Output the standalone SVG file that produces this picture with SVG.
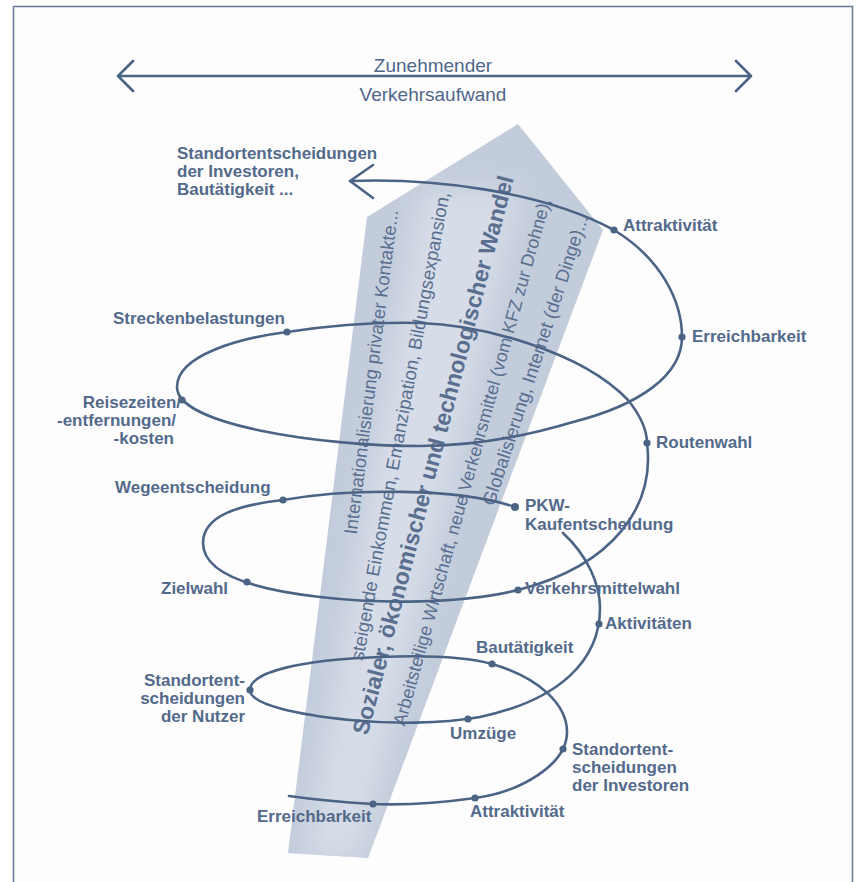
<svg xmlns="http://www.w3.org/2000/svg" width="859" height="882" viewBox="0 0 859 882">
<defs>
<clipPath id="wclip"><polygon points="518,124 603,230 368,858 288,853 367,217"/></clipPath>
<filter id="blur" x="-50%" y="-10%" width="200%" height="120%"><feGaussianBlur stdDeviation="14"/></filter>
<style>
.lbl{font-family:"Liberation Sans",Arial,sans-serif;font-weight:bold;font-size:17px;fill:#536a8b}
.ttl{font-family:"Liberation Sans",Arial,sans-serif;font-size:19px;fill:#4f6688}
.wt{font-family:"Liberation Sans",Arial,sans-serif;fill:#5a6f90;dominant-baseline:central;text-anchor:middle}
.ln{fill:none;stroke:#4b6385;stroke-width:2.6;stroke-linecap:round;stroke-linejoin:round}
.dot{fill:#4b6385}
</style>
</defs>
<rect x="0" y="0" width="859" height="882" fill="#ffffff"/>
<rect x="13.5" y="6.5" width="839" height="900" fill="#fdfdfe" stroke="#6d7f98" stroke-width="1.6"/>

<g id="wedge">
<polygon points="518,124 603,230 368,858 288,853 367,217" fill="#c3ccdb"/>
<g clip-path="url(#wclip)">
<polygon points="420,190 520,190 360,860 305,860" fill="#d7dde8" filter="url(#blur)"/>
</g>
<text class="wt" font-size="18.5" transform="translate(371,372) rotate(-82.7)">Internationalisierung privater Kontakte...</text>
<text class="wt" font-size="18.5" transform="translate(400,426) rotate(-79.5)">steigende Einkommen, Emanzipation, Bildungsexpansion,</text>
<text class="wt" font-size="23" font-weight="bold" transform="translate(433,455) rotate(-75.3)">Sozialer, ökonomischer und technologischer Wandel</text>
<text class="wt" font-size="18" transform="translate(472,462) rotate(-74.5)">Arbeitsteilige Wirtschaft, neue Verkehrsmittel (vom KFZ zur Drohne),</text>
<text class="wt" font-size="18.5" transform="translate(535,360) rotate(-71.9)">Globalisierung, Internet (der Dinge)...</text>
</g>

<g id="title">
<text class="ttl" x="433" y="72" text-anchor="middle">Zunehmender</text>
<text class="ttl" x="433" y="101" text-anchor="middle">Verkehrsaufwand</text>
</g>

<g id="connectors">
<path class="ln" d="M118,76 L751,76 M133,61 L118,76 L133,91 M736,61 L751,76 L736,91"/>
<path class="ln" d="M350,181 C430,178 540,190 614,230 C660,258 682,300 682,337 C682,375 640,405 573,422 C520,438 470,446 420,446 C320,446 177,425 177,387 C177,355 240,338 287,332 C340,324 380,322 420,323 C480,325 580,350 628,400 C640,415 647,430 647,443 C655,505 615,565 518,590 C460,604 380,604 320,597 C240,588 203,570 203,543 C203,515 240,505 283,500 C350,488 460,488 515,507"/>
<path class="ln" d="M373,165 L350,181 L373,198"/>
<path class="ln" d="M563,533 C588,556 600,585 600,608 C600,660 560,700 480,717 C440,724 390,724 350,720 C300,715 250,705 250,690 C250,672 300,660 380,657 C430,655 470,658 492,664 C540,678 567,705 567,732 C567,765 520,792 475,798 C440,803 400,805 373,804 C340,802 310,799 289,796"/>
</g>

<g id="n-standort-investoren-top">
<text class="lbl" x="177" y="159">Standortentscheidungen</text>
<text class="lbl" x="177" y="177">der Investoren,</text>
<text class="lbl" x="177" y="195">Bautätigkeit ...</text>
</g>
<g id="n-attraktivitaet-top"><circle class="dot" cx="614" cy="230" r="3.6"/><text class="lbl" x="623" y="231">Attraktivität</text></g>
<g id="n-erreichbarkeit-top"><circle class="dot" cx="682" cy="337" r="3.6"/><text class="lbl" x="692" y="342">Erreichbarkeit</text></g>
<g id="n-routenwahl"><circle class="dot" cx="647" cy="443" r="3.6"/><text class="lbl" x="656" y="448">Routenwahl</text></g>
<g id="n-streckenbelastungen"><circle class="dot" cx="287" cy="332" r="3.6"/><text class="lbl" x="113" y="324">Streckenbelastungen</text></g>
<g id="n-reisezeiten"><circle class="dot" cx="182" cy="400" r="3.6"/>
<text class="lbl" x="181" y="408" text-anchor="end">Reisezeiten/</text>
<text class="lbl" x="176" y="426" text-anchor="end">-entfernungen/</text>
<text class="lbl" x="174" y="444" text-anchor="end">-kosten</text>
</g>
<g id="n-wegeentscheidung"><circle class="dot" cx="283" cy="500" r="3.6"/><text class="lbl" x="115" y="493">Wegeentscheidung</text></g>
<g id="n-zielwahl"><circle class="dot" cx="247" cy="582" r="3.6"/><text class="lbl" x="161" y="594">Zielwahl</text></g>
<g id="n-pkw"><circle class="dot" cx="515" cy="507" r="4"/>
<text class="lbl" x="525" y="511">PKW-</text>
<text class="lbl" x="525" y="530">Kaufentscheidung</text>
</g>
<g id="n-verkehrsmittelwahl"><circle class="dot" cx="518" cy="590" r="3.6"/><text class="lbl" x="525" y="594">Verkehrsmittelwahl</text></g>
<g id="n-aktivitaeten"><circle class="dot" cx="599" cy="624" r="3.6"/><text class="lbl" x="605" y="629">Aktivitäten</text></g>
<g id="n-standort-nutzer"><circle class="dot" cx="250" cy="690" r="3.6"/>
<text class="lbl" x="245" y="686" text-anchor="end">Standortent-</text>
<text class="lbl" x="245" y="704" text-anchor="end">scheidungen</text>
<text class="lbl" x="245" y="722" text-anchor="end">der Nutzer</text>
</g>
<g id="n-bautaetigkeit"><circle class="dot" cx="492" cy="664" r="3.6"/><text class="lbl" x="476" y="653">Bautätigkeit</text></g>
<g id="n-umzuege"><circle class="dot" cx="468" cy="719" r="3.6"/><text class="lbl" x="450" y="739">Umzüge</text></g>
<g id="n-standort-investoren"><circle class="dot" cx="563" cy="749" r="3.6"/>
<text class="lbl" x="572" y="755">Standortent-</text>
<text class="lbl" x="572" y="773">scheidungen</text>
<text class="lbl" x="572" y="791">der Investoren</text>
</g>
<g id="n-attraktivitaet-bottom"><circle class="dot" cx="475" cy="798" r="3.6"/><text class="lbl" x="470" y="817">Attraktivität</text></g>
<g id="n-erreichbarkeit-bottom"><circle class="dot" cx="373" cy="804" r="3.6"/><text class="lbl" x="257" y="822">Erreichbarkeit</text></g>
</svg>
